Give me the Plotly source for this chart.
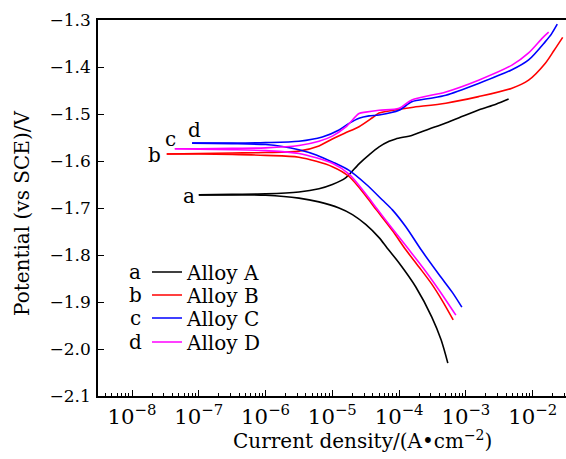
import plotly.graph_objects as go

# ---------------- data ----------------
alloys = ["Alloy A", "Alloy B", "Alloy C", "Alloy D"]
letters = ["a", "b", "c", "d"]
colors = ["#000000", "#ff0000", "#0000ff", "#ff00ff"]

# Alloy A
a_cat_i = [1.0e-7, 3.16e-7, 1.0e-6, 3.16e-6, 6.31e-6, 1.26e-5, 2.0e-5, 3.16e-5, 5.01e-5, 6.61e-5, 1.0e-4, 1.78e-4, 3.09e-4, 4.27e-4, 5.37e-4]
a_cat_E = [-1.672, -1.672, -1.673, -1.679, -1.687, -1.700, -1.714, -1.735, -1.763, -1.785, -1.817, -1.868, -1.932, -1.981, -2.030]
a_an_i = [1.0e-7, 3.16e-7, 1.0e-6, 3.16e-6, 6.31e-6, 1.0e-5, 1.58e-5, 2.51e-5, 3.55e-5, 5.01e-5, 7.08e-5, 8.91e-5, 1.58e-4, 2.82e-4, 5.01e-4, 8.91e-4, 1.58e-3, 2.82e-3, 4.37e-3]
a_an_E = [-1.672, -1.671, -1.670, -1.666, -1.659, -1.650, -1.636, -1.606, -1.587, -1.570, -1.558, -1.553, -1.545, -1.532, -1.519, -1.505, -1.491, -1.479, -1.468]

# Alloy B
b_cat_i = [3.31e-8, 1.0e-7, 3.16e-7, 1.0e-6, 3.16e-6, 1.0e-5, 1.78e-5, 3.24e-5, 4.57e-5, 7.94e-5, 1.26e-4, 2.0e-4, 3.09e-4, 4.47e-4, 6.46e-4]
b_cat_E = [-1.585, -1.585, -1.586, -1.588, -1.592, -1.612, -1.633, -1.676, -1.704, -1.748, -1.789, -1.826, -1.862, -1.898, -1.938]
b_an_i = [3.31e-8, 1.0e-7, 3.16e-7, 1.0e-6, 3.16e-6, 6.31e-6, 1.0e-5, 1.58e-5, 2.51e-5, 3.98e-5, 5.01e-5, 1.0e-4, 1.55e-4, 5.01e-4, 1.55e-3, 4.90e-3, 8.71e-3, 1.55e-2, 2.09e-2, 2.82e-2]
b_an_E = [-1.585, -1.584, -1.583, -1.582, -1.579, -1.568, -1.553, -1.540, -1.527, -1.508, -1.498, -1.490, -1.486, -1.477, -1.463, -1.445, -1.428, -1.392, -1.365, -1.337]

# Alloy C
c_cat_i = [7.94e-8, 3.16e-7, 1.0e-6, 1.78e-6, 3.16e-6, 5.75e-6, 1.0e-5, 1.78e-5, 3.24e-5, 5.62e-5, 7.94e-5, 1.26e-4, 2.14e-4, 3.98e-4, 6.31e-4, 8.71e-4]
c_cat_E = [-1.562, -1.563, -1.565, -1.569, -1.576, -1.587, -1.602, -1.620, -1.650, -1.683, -1.704, -1.740, -1.789, -1.842, -1.880, -1.911]
c_an_i = [7.94e-8, 3.16e-7, 1.0e-6, 3.16e-6, 7.08e-6, 1.26e-5, 1.78e-5, 2.51e-5, 3.55e-5, 5.01e-5, 1.0e-4, 1.55e-4, 2.82e-4, 5.01e-4, 1.55e-3, 4.90e-3, 8.71e-3, 1.55e-2, 1.91e-2, 2.34e-2]
c_an_E = [-1.562, -1.562, -1.561, -1.558, -1.549, -1.534, -1.520, -1.509, -1.504, -1.502, -1.492, -1.474, -1.467, -1.460, -1.435, -1.406, -1.385, -1.346, -1.330, -1.309]

# Alloy D
d_cat_i = [4.37e-8, 1.0e-7, 3.16e-7, 1.0e-6, 3.16e-6, 1.0e-5, 1.78e-5, 3.24e-5, 4.57e-5, 7.94e-5, 1.41e-4, 2.51e-4, 3.98e-4, 7.08e-4]
d_cat_E = [-1.574, -1.575, -1.576, -1.578, -1.584, -1.605, -1.628, -1.672, -1.700, -1.744, -1.789, -1.835, -1.875, -1.928]
d_an_i = [4.37e-8, 1.0e-7, 3.16e-7, 1.0e-6, 3.16e-6, 6.31e-6, 1.0e-5, 1.58e-5, 2.51e-5, 3.16e-5, 5.01e-5, 1.0e-4, 1.55e-4, 5.01e-4, 1.55e-3, 4.90e-3, 8.71e-3, 1.41e-2, 1.74e-2]
d_an_E = [-1.574, -1.574, -1.573, -1.572, -1.567, -1.558, -1.547, -1.528, -1.499, -1.496, -1.492, -1.488, -1.470, -1.453, -1.428, -1.396, -1.370, -1.338, -1.326]

y_tick_vals = [-2.1, -2.0, -1.9, -1.8, -1.7, -1.6, -1.5, -1.4, -1.3]

# in-plot label anchors (log10 current, potential)
label_x = [-7.15, -7.66, -7.43, -7.06]
label_y = [-1.674, -1.587, -1.553, -1.534]

series = [
    (a_cat_i, a_cat_E, a_an_i, a_an_E),
    (b_cat_i, b_cat_E, b_an_i, b_an_E),
    (c_cat_i, c_cat_E, c_an_i, c_an_E),
    (d_cat_i, d_cat_E, d_an_i, d_an_E),
]

FONT = "DejaVu Serif"

fig = go.Figure()
legend_names = ["legend", "legend2", "legend3", "legend4"]
for k, (ci, ce, ai, ae) in enumerate(series):
    # cathodic branch
    fig.add_trace(go.Scatter(
        x=ci, y=ce, mode="lines", name=alloys[k],
        line=dict(color=colors[k], width=1.6, shape="spline", smoothing=0.8),
        legend=legend_names[k], legendgroup=alloys[k], showlegend=True,
    ))
    # anodic branch
    fig.add_trace(go.Scatter(
        x=ai, y=ae, mode="lines", name=alloys[k],
        line=dict(color=colors[k], width=1.6, shape="spline", smoothing=0.8),
        legend=legend_names[k], legendgroup=alloys[k], showlegend=False,
    ))

# plot geometry in px
L, T, W, H = 98, 20, 468, 376
legend_rows = [272, 295, 318, 342]
layout_legends = {}
for k, nm in enumerate(legend_names):
    layout_legends[nm] = dict(
        x=(147 - L) / W, y=(T + H - legend_rows[k]) / H,
        xanchor="left", yanchor="middle",
        bgcolor="rgba(0,0,0,0)", borderwidth=0,
        font=dict(family=FONT, size=20, color="#000"),
    )

annotations = []
for k in range(4):
    annotations.append(dict(
        x=(135 - L) / W, y=(T + H - legend_rows[k]) / H, xref="paper", yref="paper",
        text=letters[k], showarrow=False, xanchor="center", yanchor="middle",
        font=dict(family=FONT, size=20, color="#000"),
    ))
    annotations.append(dict(
        x=label_x[k], y=label_y[k], xref="x", yref="y",
        text=letters[k], showarrow=False, xanchor="center", yanchor="middle",
        font=dict(family=FONT, size=20, color="#000"),
    ))

annotations.append(dict(
    x=(362 - L) / W, y=(T + H - 440) / H, xref="paper", yref="paper",
    text="Current density/(A\u2022cm<sup>\u22122</sup>)", showarrow=False,
    xanchor="center", yanchor="middle",
    font=dict(family=FONT, size=20, color="#000"),
))
annotations.append(dict(
    x=(22 - L) / W, y=(T + H - 214) / H, xref="paper", yref="paper",
    text="Potential (vs SCE)/V", showarrow=False, textangle=-90,
    xanchor="center", yanchor="middle",
    font=dict(family=FONT, size=20, color="#000"),
))

fig.update_layout(
    width=566, height=459,
    margin=dict(l=L, r=0, t=T, b=459 - T - H, pad=0),
    paper_bgcolor="white", plot_bgcolor="white",
    font=dict(family=FONT, size=17, color="#000"),
    showlegend=True,
    annotations=annotations,
    **layout_legends,
)

fig.update_xaxes(
    type="log", range=[-8.51, -1.5],
    tickmode="linear", tick0=0, dtick=1, exponentformat="power", showexponent="all",
    ticks="inside", ticklen=6, tickwidth=1, tickcolor="#000",
    minor=dict(dtick="D1", ticks="inside", ticklen=3,
               tickwidth=1, tickcolor="#000", showgrid=False),
    showline=True, linecolor="#000", linewidth=1.5, mirror=True,
    showgrid=False, zeroline=False, ticklabelstandoff=2,
    tickfont=dict(family=FONT, size=17, color="#000"),
)
fig.update_yaxes(
    range=[-2.1, -1.3], tickvals=y_tick_vals, tickformat=".1f",
    ticks="inside", ticklen=6, tickwidth=1, tickcolor="#000",
    showline=True, linecolor="#000", linewidth=1.5, mirror=False,
    showgrid=False, zeroline=False, ticklabelstandoff=2,
    tickfont=dict(family=FONT, size=17, color="#000"),
)

fig.write_html("out.html", config={"displayModeBar": False},
               post_script="document.body.style.margin='0';document.body.style.padding='0';")
